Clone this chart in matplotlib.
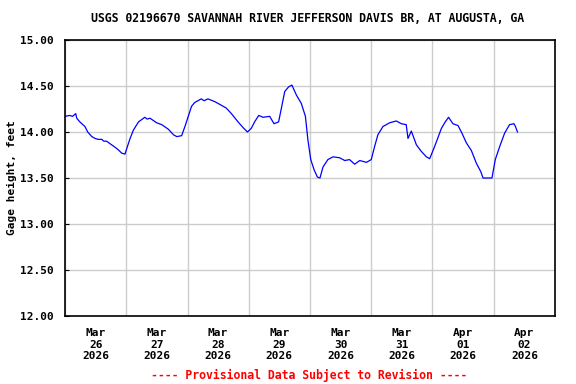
import matplotlib
matplotlib.use("Agg")
import matplotlib.pyplot as plt
from matplotlib.ticker import FixedLocator, NullFormatter, FixedFormatter

# hours since Mar 26 2026 00:00 and gage height (ft)
jam = [0.0, 1.8, 3.0, 4.2, 4.6, 5.8, 7.8, 8.9, 10.5, 11.8, 13.0, 14.4, 15.2, 16.3,
       18.3, 20.3, 21.5, 22.2, 23.5, 24.2, 25.5, 26.8, 28.8, 31.3, 32.2, 33.3,
       35.9, 37.9, 40.5, 42.5, 43.8, 45.7, 47.0, 48.3, 49.6, 50.8, 53.4, 54.5,
       56.0, 58.7, 61.3, 63.2, 65.2, 67.8, 69.7, 71.5, 73.0, 74.3, 75.9, 77.6,
       80.2, 81.9, 83.7, 84.8, 86.1, 87.6, 88.9, 90.7, 92.6, 94.2, 95.2, 96.3,
       97.6, 98.9, 99.9, 101.1, 103.0, 105.0, 107.6, 109.6, 111.5, 113.5, 115.5,
       118.1, 120.0, 121.3, 122.6, 124.6, 127.2, 129.8, 131.8, 133.7, 134.4,
       135.7, 137.7, 139.6, 141.6, 142.9, 144.8, 147.5, 149.0, 150.3, 152.0,
       154.0, 155.5, 157.3, 159.2, 161.2, 162.9, 163.8, 165.7, 167.3, 168.6,
       170.3, 172.3, 174.2, 175.9, 176.5, 177.3]
tinggi = [14.17, 14.18, 14.17, 14.20, 14.15, 14.11, 14.06, 14.00, 13.95, 13.93, 13.92,
          13.92, 13.90, 13.90, 13.86, 13.82, 13.79, 13.77, 13.76, 13.82, 13.93, 14.02,
          14.11, 14.16, 14.14, 14.15, 14.10, 14.08, 14.03, 13.97, 13.95, 13.96, 14.06,
          14.17, 14.28, 14.32, 14.36, 14.34, 14.36, 14.33, 14.29, 14.26, 14.20, 14.11,
          14.05, 14.00, 14.04, 14.11, 14.18, 14.16, 14.17, 14.09, 14.11, 14.26, 14.44,
          14.49, 14.51, 14.40, 14.31, 14.17, 13.91, 13.70, 13.59, 13.51, 13.50, 13.62,
          13.70, 13.73, 13.72, 13.69, 13.70, 13.65, 13.69, 13.67, 13.70, 13.84, 13.97,
          14.06, 14.10, 14.12, 14.09, 14.08, 13.93, 14.01, 13.86, 13.79, 13.73, 13.71,
          13.84, 14.04, 14.11, 14.16, 14.09, 14.07, 13.99, 13.88, 13.80, 13.66, 13.57,
          13.50, 13.50, 13.50, 13.70, 13.84, 13.99, 14.08, 14.09, 14.06, 14.00]

label_hari = ["Mar\n26\n2026", "Mar\n27\n2026", "Mar\n28\n2026", "Mar\n29\n2026",
              "Mar\n30\n2026", "Mar\n31\n2026", "Apr\n01\n2026", "Apr\n02\n2026"]
nilai_y = [12.0, 12.5, 13.0, 13.5, 14.0, 14.5, 15.0]

font = "DejaVu Sans Mono"

fig = plt.figure(figsize=(5.76, 3.84), dpi=100)
ax = fig.add_axes([65 / 576, 1 - 316 / 384, 490 / 576, 276 / 384])

ax.plot(jam, tinggi, color="#0000ff", linewidth=0.9)

ax.set_xlim(0, 24 * len(label_hari))
ax.set_ylim(12, 15)

# garis grid di tengah malam, label di tengah hari
ax.xaxis.set_major_locator(FixedLocator([24 * i for i in range(len(label_hari) + 1)]))
ax.xaxis.set_major_formatter(NullFormatter())
ax.xaxis.set_minor_locator(FixedLocator([24 * i + 12 for i in range(len(label_hari))]))
ax.xaxis.set_minor_formatter(FixedFormatter(label_hari))
ax.tick_params(axis="x", which="both", length=0)
ax.tick_params(axis="x", which="minor", pad=9)

ax.set_yticks(nilai_y)
ax.set_yticklabels([f"{v:.2f}" for v in nilai_y])
ax.tick_params(axis="y", direction="in", length=3, pad=8)

for lbl in ax.get_xticklabels(minor=True) + ax.get_yticklabels():
    lbl.set_fontfamily(font)
    lbl.set_fontweight("bold")
    lbl.set_fontsize(8)
    lbl.set_linespacing(1.15)

ax.grid(True, which="major", color="#cccccc", linewidth=1)
for s in ax.spines.values():
    s.set_linewidth(1.2)
    s.set_color("black")

ax.set_ylabel("Gage height, feet", family=font, fontweight="bold", fontsize=8)
ax.yaxis.set_label_coords(-48 / 490, 0.5)

fig.text(308 / 576, 1 - 19 / 384, "USGS 02196670 SAVANNAH RIVER JEFFERSON DAVIS BR, AT AUGUSTA, GA",
         ha="center", va="center", family=font, fontweight="bold", fontsize=8.3)
fig.text(309 / 576, 1 - 375 / 384, "---- Provisional Data Subject to Revision ----",
         ha="center", va="center", family=font, fontweight="bold", fontsize=8.3, color="red")

fig.savefig("out.png", dpi=100)
